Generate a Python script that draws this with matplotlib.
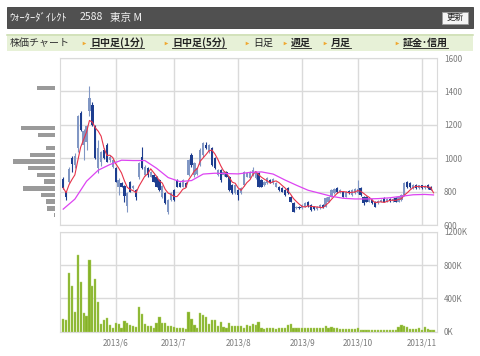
import numpy as np
import pandas as pd
import matplotlib
matplotlib.use('Agg')
import matplotlib.pyplot as plt
from matplotlib.patches import Rectangle

plt.rcParams['font.family'] = ['Noto Sans CJK JP', 'DejaVu Sans']

# DATA (daily candles, 2013/5/8 - 2013/11/7)
opens = [876, 800, 858, 1002, 960, 1062, 1272, 1080, 1100, 1280,
         1320, 1190, 940, 980, 1050, 1080, 990, 950, 942, 830,
         850, 835, 715, 860, 820, 810, 885, 1010, 900, 940,
         890, 900, 890, 870, 765, 790, 680, 750, 810, 870,
         850, 830, 850, 900, 1020, 900, 905, 960, 1020, 1080,
         1040, 1060, 1000, 900, 930, 900, 920, 890, 840, 790,
         810, 790, 840, 890, 880, 900, 880, 910, 870, 840,
         850, 870, 850, 830, 830, 820, 810, 820, 770, 730,
         700, 710, 700, 710, 740, 720, 710, 695, 700, 720,
         710, 740, 770, 790, 820, 795, 800, 770, 805, 780,
         790, 790, 820, 770, 770, 740, 750, 740, 730, 740,
         760, 740, 758, 742, 760, 740, 750, 780, 860, 850,
         822, 840, 820, 838, 820, 840, 830, 675]
highs = [890, 805, 945, 1015, 1030, 1260, 1285, 1175, 1200, 1430,
         1335, 1200, 1110, 1045, 1060, 1090, 1020, 995, 950, 880,
         860, 840, 800, 865, 840, 815, 980, 1070, 960, 945,
         925, 905, 895, 875, 840, 800, 755, 795, 815, 875,
         855, 875, 855, 995, 1030, 975, 950, 1060, 1100, 1100,
         1085, 1065, 1005, 935, 935, 925, 925, 895, 845, 845,
         815, 825, 925, 915, 925, 945, 925, 915, 875, 865,
         885, 875, 880, 855, 835, 825, 815, 825, 775, 735,
         715, 715, 725, 735, 745, 725, 715, 712, 725, 725,
         765, 775, 815, 820, 825, 815, 805, 805, 810, 815,
         820, 870, 825, 775, 775, 765, 755, 745, 750, 755,
         765, 762, 762, 760, 765, 775, 785, 858, 865, 855,
         845, 845, 842, 842, 840, 845, 835, 675]
lows = [815, 750, 850, 920, 940, 1040, 1160, 990, 1050, 1255,
        1195, 995, 910, 955, 995, 975, 980, 940, 855, 780,
        825, 735, 680, 795, 815, 750, 875, 935, 895, 890,
        885, 855, 825, 805, 760, 725, 668, 745, 745, 825,
        825, 825, 825, 895, 950, 890, 900, 955, 1010, 1055,
        1030, 955, 935, 895, 860, 895, 885, 805, 785, 785,
        750, 785, 835, 885, 875, 895, 875, 825, 825, 835,
        845, 850, 845, 825, 805, 795, 775, 785, 735, 675,
        695, 695, 695, 705, 710, 685, 690, 690, 695, 700,
        705, 735, 765, 785, 790, 790, 765, 765, 785, 775,
        785, 785, 775, 720, 735, 735, 725, 705, 725, 735,
        735, 735, 738, 738, 735, 735, 745, 775, 820, 820,
        818, 815, 815, 818, 815, 815, 808, 675]
closes = [822, 765, 936, 966, 1012, 1250, 1170, 1160, 1190, 1360,
          1200, 1000, 1060, 1040, 1000, 980, 1010, 990, 858, 870,
          830, 775, 790, 800, 832, 770, 972, 940, 950, 900,
          920, 860, 830, 810, 835, 730, 750, 790, 750, 830,
          830, 870, 830, 990, 960, 970, 940, 1050, 1092, 1060,
          1080, 960, 940, 930, 870, 920, 890, 810, 790, 840,
          780, 820, 920, 910, 920, 930, 920, 830, 830, 860,
          880, 855, 875, 850, 810, 800, 780, 790, 740, 680,
          710, 700, 720, 730, 715, 690, 695, 708, 720, 705,
          762, 770, 810, 815, 795, 810, 770, 800, 790, 810,
          815, 815, 780, 730, 740, 760, 730, 710, 745, 750,
          740, 758, 742, 755, 740, 770, 780, 850, 825, 825,
          840, 820, 838, 822, 835, 820, 812, 675]
volumes_k = [148, 135, 708, 548, 240, 920, 600, 228, 188, 860,
             548, 628, 360, 92, 140, 160, 80, 48, 100, 88,
             48, 128, 100, 80, 64, 56, 296, 212, 96, 68,
             68, 48, 108, 172, 100, 100, 68, 72, 52, 44,
             44, 40, 32, 232, 152, 80, 48, 228, 200, 172,
             96, 140, 140, 72, 112, 56, 48, 104, 68, 64,
             64, 72, 50, 80, 70, 88, 75, 120, 40, 35,
             40, 45, 40, 35, 40, 40, 45, 80, 88, 40,
             40, 40, 45, 45, 48, 45, 40, 45, 50, 45,
             64, 48, 55, 48, 40, 32, 32, 32, 30, 28,
             28, 40, 25, 18, 18, 16, 16, 25, 16, 18,
             16, 16, 16, 16, 16, 60, 80, 68, 56, 28,
             32, 32, 40, 24, 52, 32, 24, 16]
# 25-day moving average, read every 4 trading days
ma_long_days = [0, 4, 8, 12, 16, 20, 24, 28, 32, 36, 40, 44, 48, 52, 56, 60,
                64, 68, 72, 76, 80, 84, 88, 92, 96, 100, 104, 108, 112, 116,
                120, 124, 127]
ma_long = [695, 755, 862, 928, 962, 988, 986, 986, 940, 884, 860, 866, 905,
           910, 908, 906, 915, 918, 905, 870, 838, 808, 790, 772, 760, 756,
           756, 758, 763, 772, 781, 783, 780]
# price-by-volume profile
profile_prices = [1420, 1180, 1140, 1060, 1020, 980, 940, 900, 860, 820,
                  780, 740, 700, 660]
profile_sizes = [18, 34, 17, 9, 25, 42, 27, 18, 11, 32, 14, 9, 8, 0.8]
holidays = ['2013-07-15', '2013-09-16', '2013-09-23', '2013-10-14']
price_ticks = [600, 800, 1000, 1200, 1400, 1600]
vol_ticks = [0, 400, 800, 1200]

title_parts = ['ｳｫｰﾀｰﾀﾞｲﾚｸﾄ', '2588', '東京 M']
title_x = [9.5, 80, 110]
nav_items = [('日中足(1分)', True), ('日中足(5分)', True), ('日足', False),
             ('週足', True), ('月足', True), ('証金･信用', True)]
nav_x = [84, 166, 247, 285, 325, 397]

dates = pd.bdate_range('2013-05-08', '2013-11-07')
dates = dates[~dates.isin(pd.to_datetime(holidays))]
days = np.arange(len(dates))
month_idx = [i for i in range(1, len(dates)) if dates[i].month != dates[i - 1].month]
month_labels = ['%d/%d' % (dates[i].year, dates[i].month) for i in month_idx]

W, H = 480, 356
fig = plt.figure(figsize=(4.8, 3.56), dpi=100)
fig.patch.set_facecolor('white')

GRID = '#dadada'
LABEL = '#7a7a7a'

# HEADER (pixel coordinates)
bg = fig.add_axes([0, 0, 1, 1], zorder=-1)
bg.set_xlim(0, W)
bg.set_ylim(H, 0)
bg.axis('off')
bg.add_patch(Rectangle((7, 7), 466, 20.5, facecolor='#505050', edgecolor='#3c3c3c', lw=0.6))
for part, x in zip(title_parts, title_x):
    bg.text(x, 17.5, part, color='#f2f2f2', fontsize=7.6, va='center', ha='left')
bg.add_patch(Rectangle((442, 11.5), 26, 12, facecolor='#f5f5f5', edgecolor='#9a9a9a', lw=0.6))
bg.text(455, 17.7, '更新', color='#222222', fontsize=6.2, va='center', ha='center')

bg.add_patch(Rectangle((7, 34), 466, 17, facecolor='#e7f1d7', edgecolor='none'))
bg.plot([7, 473], [34.6, 34.6], color='#cfe0b6', lw=1.2)
bg.text(9.5, 43, '株価チャート', color='#333333', fontsize=7.2, va='center', ha='left')

links = []
for (label, is_link), x in zip(nav_items, nav_x):
    bg.plot([x], [43], marker='>', ms=2.6, color='#f0a830', mec='none')
    t = bg.text(x + 6, 43, label, color='#222222', fontsize=7.2, va='center', ha='left',
                fontweight='bold' if is_link else 'normal')
    if is_link:
        links.append(t)

# PRICE PANEL
ax = fig.add_axes([60 / W, 1 - 225 / H, 377 / W, 167 / H])
o = np.array(opens, dtype=float)
c = np.array(closes, dtype=float)
up = c >= o
col = np.where(up, '#8197c4', '#1d3d8f')
ax.vlines(days, lows, highs, colors=col, lw=0.8, zorder=3)
ax.bar(days, np.maximum(np.abs(c - o), 4), bottom=np.minimum(o, c), width=0.78,
       color=col, zorder=3)
ma_short = pd.Series(closes, dtype=float).rolling(5, min_periods=1).mean()
ax.plot(days, ma_short, color='#e8334a', lw=0.8, zorder=4)
ax.plot(ma_long_days, ma_long, color='#dd44f2', lw=0.9, zorder=4)

ax.set_xlim(-1.1, 128.2)
ax.set_ylim(600, 1600)
ax.set_xticks(month_idx)
ax.set_yticks(price_ticks)
ax.grid(True, color=GRID, lw=1.0)
ax.set_axisbelow(True)
ax.yaxis.tick_right()
ax.tick_params(length=0, labelsize=5.8, labelcolor=LABEL, pad=5)
ax.tick_params(axis='x', labelbottom=False)
for s in ax.spines.values():
    s.set_color(GRID)

# VOLUME PANEL
ax2 = fig.add_axes([60 / W, 1 - 331.7 / H, 377 / W, 100 / H])
ax2.bar(days, volumes_k, width=0.75, color='#86b228', edgecolor='#b5d46e', lw=0.3, zorder=3)
ax2.set_xlim(-1.1, 128.2)
ax2.set_ylim(0, 1200)
ax2.set_yticks(vol_ticks)
ax2.set_yticklabels(['%dK' % v for v in vol_ticks])
ax2.set_xticks(month_idx)
ax2.set_xticklabels(month_labels)
ax2.grid(True, color=GRID, lw=1.0)
ax2.set_axisbelow(True)
ax2.yaxis.tick_right()
ax2.tick_params(length=0, labelsize=5.8, labelcolor=LABEL, pad=5)
for s in ax2.spines.values():
    s.set_color(GRID)

# PRICE-BY-VOLUME PROFILE
ax3 = fig.add_axes([13 / W, 1 - 225 / H, 42 / W, 167 / H])
ax3.barh(profile_prices, profile_sizes, height=27, color='#9a9a9a')
ax3.set_xlim(42, 0)
ax3.set_ylim(600, 1600)
ax3.axis('off')

# underline the links
fig.canvas.draw()
r = fig.canvas.get_renderer()
for t in links:
    bb = t.get_window_extent(r)
    (x0, _), (x1, _) = bg.transData.inverted().transform([[bb.x0, bb.y0], [bb.x1, bb.y1]])
    bg.plot([x0, x1], [48.3, 48.3], color='#222222', lw=0.6)

fig.savefig('out.png', dpi=100)
